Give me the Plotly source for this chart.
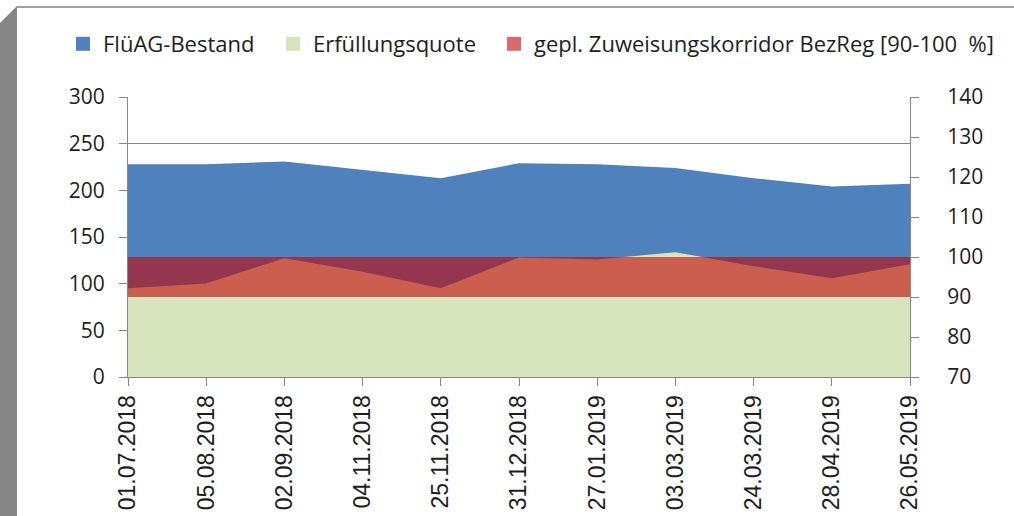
import plotly.graph_objects as go

dates = ["01.07.2018", "05.08.2018", "02.09.2018", "04.11.2018", "25.11.2018",
         "31.12.2018", "27.01.2019", "03.03.2019", "24.03.2019", "28.04.2019", "26.05.2019"]
bestand = [228, 228, 231, 222, 213, 229, 228, 224, 213, 204, 207]
quote = [92.2, 93.4, 99.7, 96.3, 92.2, 99.9, 99.4, 101.2, 97.7, 94.7, 98.2]
korridor_low = [90] * len(dates)
korridor_high = [100] * len(dates)
legend_names = ["FlüAG-Bestand", "Erfüllungsquote",
                "gepl. Zuweisungskorridor BezReg [90-100 \u00a0%]"]

W, H = 1014, 516
L, R, T, B = 128, 910, 97, 377


def px(x):
    return (x - L) / (R - L)


def py(y):
    return (B - y) / (B - T)


BLUE = "#4F81BD"
GREEN = "#D7E4BD"
RED_FILL = "rgba(195,5,3,0.6)"
RED_LEG = "#DB6A68"
FONT = "Open Sans"
TXT = "#1E1E1E"
AX = "#868686"

fig = go.Figure()

fig.add_trace(go.Scatter(x=dates, y=bestand, mode="lines", fill="tozeroy",
                         fillcolor=BLUE, line=dict(width=0, color=BLUE),
                         showlegend=False, hoverinfo="skip"))
fig.add_trace(go.Scatter(x=dates, y=quote, mode="lines", fill="tozeroy",
                         fillcolor=GREEN, line=dict(width=0, color=GREEN),
                         yaxis="y2", showlegend=False, hoverinfo="skip"))
fig.add_trace(go.Scatter(x=dates, y=korridor_low, mode="lines",
                         line=dict(width=0), yaxis="y2", showlegend=False,
                         hoverinfo="skip"))
fig.add_trace(go.Scatter(x=dates, y=korridor_high, mode="lines", fill="tonexty",
                         fillcolor=RED_FILL, line=dict(width=0),
                         yaxis="y2", showlegend=False, hoverinfo="skip"))

# legend entries with square swatches, each in its own legend box
legend_keys = ["legend", "legend2", "legend3"]
legend_x0 = [63, 273, 494]
for name, col, key in zip(legend_names, [BLUE, GREEN, RED_LEG], legend_keys):
    fig.add_trace(go.Scatter(x=[None], y=[None], mode="markers", name=name,
                             legend=key,
                             marker=dict(symbol="square", size=14, color=col,
                                         line=dict(width=0))))

shapes = [
    # left grey bevelled strip
    dict(type="path", xref="paper", yref="paper",
         path=f"M {px(0)},{py(23)} L {px(17)},{py(6)} L {px(17)},{py(516)} L {px(0)},{py(516)} Z",
         fillcolor="#858585", line=dict(width=0), layer="above"),
    # top frame line
    dict(type="line", xref="paper", yref="paper",
         x0=px(17), x1=px(1014), y0=py(7), y1=py(7),
         line=dict(color="#A0A0A0", width=2)),
]

legend_common = dict(orientation="h", xanchor="left", y=py(44), yanchor="middle",
                     itemwidth=30, font=dict(family=FONT, size=22, color=TXT),
                     bgcolor="rgba(0,0,0,0)")
legends = {key: dict(x=px(x0), **legend_common) for key, x0 in zip(legend_keys, legend_x0)}

fig.update_layout(
    width=W, height=H,
    margin=dict(l=L, r=W - R, t=T, b=H - B, pad=0, autoexpand=False),
    paper_bgcolor="white", plot_bgcolor="white",
    font=dict(family=FONT, color=TXT, size=21),
    showlegend=True,
    xaxis=dict(type="category", range=[0, len(dates) - 1], showgrid=False,
               showline=True, linecolor=AX, linewidth=1, automargin=False,
               ticks="outside", ticklen=8, tickcolor=AX,
               tickangle=-90, tickfont=dict(family="Liberation Sans", size=23,
                                             color=TXT),
               zeroline=False),
    yaxis=dict(range=[0, 300], dtick=50, showgrid=True, gridcolor=AX,
               gridwidth=1, showline=True, linecolor=AX, linewidth=1,
               ticks="outside", ticklen=8, tickcolor=AX, automargin=False,
               tickfont=dict(family=FONT, size=21, color=TXT),
               zeroline=False, ticklabelstandoff=10),
    yaxis2=dict(range=[70, 140], dtick=10, overlaying="y", side="right",
                showgrid=False, showline=True, linecolor=AX, linewidth=1,
                ticks="outside", ticklen=8, tickcolor=AX, automargin=False,
                tickfont=dict(family=FONT, size=21, color=TXT),
                zeroline=False, ticklabelstandoff=24),
    shapes=shapes,
    **legends,
)

fig.write_html("out.html", config={"displayModeBar": False},
               post_script="document.body.style.margin='0';")
